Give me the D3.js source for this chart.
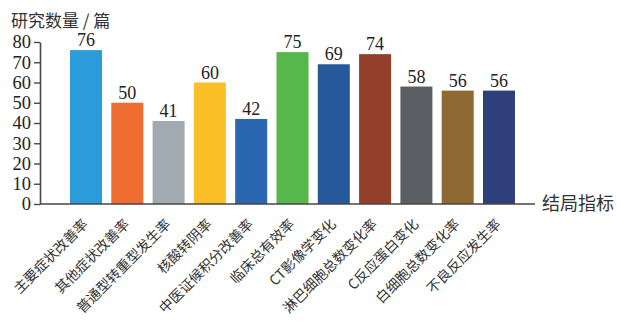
<!DOCTYPE html>
<html><head><meta charset="utf-8">
<script src="https://cdn.jsdelivr.net/npm/d3@7"></script>
<style>body{margin:0;background:#fff}svg{display:block}</style>
</head><body>
<script>
const categories = ["主要症状改善率","其他症状改善率","普通型转重型发生率","核酸转阴率","中医证候积分改善率","临床总有效率","CT影像学变化","淋巴细胞总数变化率","C反应蛋白变化","白细胞总数变化率","不良反应发生率"];
const values = [76,50,41,60,42,75,69,74,58,56,56];
const colors = ["#2b9bd9","#ef6d31","#a2aab1","#fbbf27","#2a66b2","#56b74b","#26599b","#933f29","#5b5f64","#8c6a32","#2e3f7c"];
const yTicks = [0,10,20,30,40,50,60,70,80];
const yTitle = "研究数量 / 篇";
const xTitle = "结局指标";

const W = 617, H = 323;
const svg = d3.select("body").append("svg").attr("width", W).attr("height", H);
const x = d3.scaleBand().domain(categories).range([65.35, 519.65]).paddingInner(0.225).paddingOuter(0.1125);
const y = d3.scaleLinear().domain([0, 80]).range([204, 42]);
const serif = "'Liberation Serif','Times New Roman',serif";
const cjk = "'Noto Sans CJK SC','Noto Sans',sans-serif";
const axisColor = "#4a4545";

svg.selectAll("rect.bar").data(values).join("rect").attr("class","bar")
  .attr("x", (d,i) => x(categories[i]))
  .attr("width", x.bandwidth())
  .attr("y", d => y(d))
  .attr("height", d => y(0) - y(d))
  .attr("fill", (d,i) => colors[i]);

svg.selectAll("text.val").data(values).join("text").attr("class","val")
  .attr("x", (d,i) => x(categories[i]) + x.bandwidth()/2)
  .attr("y", d => y(d) - 4)
  .attr("text-anchor","middle")
  .attr("font-family", serif).attr("font-size", 18).attr("fill","#222")
  .text(d => d);

const yAxis = svg.append("g").attr("transform","translate(40,0)")
  .call(d3.axisLeft(y).tickValues(yTicks).tickSize(6).tickPadding(3).tickSizeOuter(0));
yAxis.select(".domain").attr("stroke", axisColor).attr("stroke-width", 1.6);
yAxis.selectAll(".tick line").attr("stroke", axisColor).attr("stroke-width", 1.4);
yAxis.selectAll(".tick text").attr("font-family", serif).attr("font-size", 18.5).attr("fill","#222");

svg.append("line").attr("x1", 40).attr("x2", 535).attr("y1", y(0)).attr("y2", y(0))
  .attr("stroke", axisColor).attr("stroke-width", 1.6);

svg.selectAll("text.cat").data(categories).join("text").attr("class","cat")
  .attr("transform", d => `translate(${x(d) + x.bandwidth()/2 + 3},225) rotate(-45)`)
  .attr("text-anchor","end")
  .attr("font-family", cjk).attr("font-size", 14).attr("fill","#333")
  .text(d => d);

svg.append("text").attr("x", 11).attr("y", 27)
  .attr("font-family", cjk).attr("font-size", 17).attr("fill","#333").text(yTitle);
svg.append("text").attr("x", 542).attr("y", 210)
  .attr("font-family", cjk).attr("font-size", 18).attr("fill","#333").text(xTitle);
</script>
</body></html>
